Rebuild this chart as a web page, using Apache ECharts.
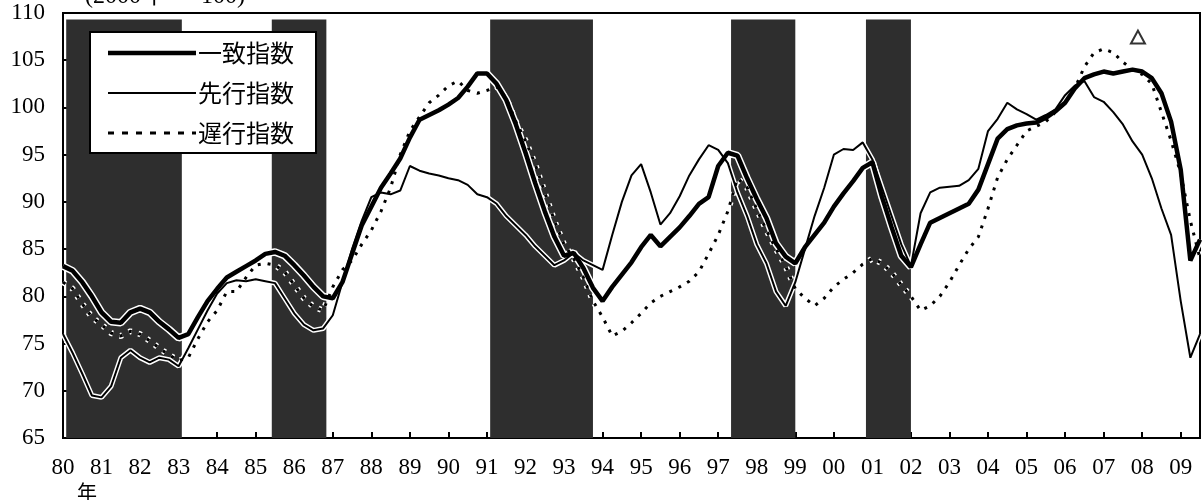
<!DOCTYPE html>
<html><head><meta charset="utf-8">
<script src="https://cdn.jsdelivr.net/npm/echarts/dist/echarts.min.js"></script>
<style>html,body{margin:0;padding:0;background:#fff}#c{width:1203px;height:500px}</style>
</head><body><div id="c"></div>
<script>
// quarterly readings, first value = 1980 Q1 start, step = one quarter
const startYear = 1980;
const coincident = [
  83.2, 82.7, 81.5, 80.0,   78.3, 77.3, 77.2, 78.3,   78.7, 78.3, 77.3, 76.5,
  75.6, 76.0, 77.8, 79.5,   80.8, 82.0, 82.6, 83.2,   83.8, 84.5, 84.7, 84.3,
  83.3, 82.2, 81.0, 80.0,   79.8, 81.5, 84.5, 87.5,   89.5, 91.5, 93.0, 94.6,
  96.8, 98.7, 99.2, 99.7,   100.3, 101.0, 102.2, 103.6, 103.6, 102.5, 100.8, 98.2,
  95.2, 92.0, 89.0, 86.3,   84.3, 84.6, 83.0, 80.9,   79.5, 81.0, 82.3, 83.6,
  85.2, 86.5, 85.3, 86.3,   87.3, 88.5, 89.8, 90.5,   93.8, 95.2, 94.9, 92.5,
  90.3, 88.3, 85.6, 84.2,   83.5, 85.2, 86.5, 87.8,   89.5, 90.9, 92.2, 93.6,
  94.2, 90.5, 87.3, 84.3,   83.1, 85.5, 87.8, 88.3,   88.8, 89.3, 89.8, 91.3,
  94.0, 96.7, 97.7, 98.1,   98.3, 98.4, 98.9, 99.6,   100.5, 102.0, 103.1, 103.5,
  103.8, 103.6, 103.8, 104.0, 103.8, 103.1, 101.5, 98.5, 93.4, 83.8, 86.0
];
const leading = [
  76.0, 74.0, 71.8, 69.5,   69.3, 70.5, 73.5, 74.3,   73.5, 73.0, 73.5, 73.3,
  72.6, 74.5, 76.5, 78.5,   80.3, 81.4, 81.7, 81.6,   81.8, 81.6, 81.4, 79.8,
  78.2, 77.0, 76.4, 76.6,   78.0, 81.5, 85.0, 88.0,   90.5, 91.0, 90.8, 91.2,
  93.8, 93.3, 93.0, 92.8,   92.5, 92.3, 91.8, 90.8,   90.5, 89.8, 88.5, 87.5,
  86.5, 85.3, 84.3, 83.3,   83.8, 84.6, 83.8, 83.3,   82.8, 86.5, 90.0, 92.8,
  94.0, 91.0, 87.6, 88.8,   90.6, 92.8, 94.5, 96.0,   95.5, 94.1, 91.0, 88.5,
  85.5, 83.5, 80.5, 79.0,   81.5, 85.0, 88.5, 91.5,   95.0, 95.6, 95.5, 96.3,
  94.5, 91.5, 88.5, 85.5,   83.2, 88.8, 91.0, 91.5,   91.6, 91.7, 92.3, 93.5,
  97.5, 98.8, 100.5, 99.8,  99.3, 98.7, 99.2, 99.8,   101.3, 102.3, 102.8, 101.1,
  100.6, 99.5, 98.2, 96.4,  95.0, 92.5, 89.3, 86.5,   79.5, 73.5, 76.0
];
const lagging = [
  81.5, 80.8, 79.2, 77.8,   77.0, 76.1, 75.8, 76.3,   76.0, 75.3, 74.5, 73.8,
  73.2, 73.5, 75.5, 77.3,   78.5, 80.5, 80.5, 82.0,   83.3, 83.5, 83.3, 82.6,
  81.2, 79.8, 78.9, 78.5,   81.0, 82.8, 83.8, 85.5,   87.0, 89.0, 91.5, 95.0,
  97.5, 99.0, 100.5, 101.3, 102.3, 102.8, 101.8, 101.5, 101.8, 102.2, 101.0, 98.5,
  96.5, 94.0, 91.0, 88.0,   85.5, 84.0, 82.0, 79.5,   77.8, 75.8, 76.3, 77.2,
  78.2, 79.3, 80.0, 80.5,   81.0, 81.6, 82.6, 84.5,   86.5, 89.0, 92.5, 91.5,
  89.2, 87.0, 85.0, 83.2,   80.8, 79.8, 79.0, 79.8,   81.0, 81.8, 82.5, 83.4,
  84.0, 83.5, 82.5, 81.2,   80.0, 78.5, 79.0, 80.0,   81.5, 83.3, 85.0, 86.3,
  89.3, 92.6, 94.5, 96.0,   97.5, 98.0, 98.5, 99.5,   100.5, 102.0, 104.3, 105.8,
  106.2, 105.8, 104.8, 104.0, 103.5, 102.5, 99.5, 96.5, 93.0, 88.0, 84.0
];
// recession periods (start, end) in years
const recessions = [[1980.083, 1983.083], [1985.417, 1986.833], [1991.083, 1993.75], [1997.333, 1999.0], [2000.833, 2002.0]];
const peakMark = [[2007.89, 107.45]];
const seriesNames = ['一致指数', '先行指数', '遅行指数'];
const titleText = '(2000年 ＝ 100)';
const yearUnit = '年';

const quarters = coincident.map((_, i) => startYear + i * 0.25);
const pairs = vals => vals.map((v, i) => [quarters[i], v]);

const defs = [
  {name: seriesNames[0], data: coincident, width: 4.5, type: 'solid', legendDash: null},
  {name: seriesNames[1], data: leading, width: 2, type: 'solid', legendDash: null},
  {name: seriesNames[2], data: lagging, width: 3, type: [3, 7], legendDash: [6, 8]}
];

const series = [{
  type: 'line', name: '_shade', data: [], z: 1, silent: true,
  markArea: {silent: true, itemStyle: {color: '#2e2e2e'},
    data: recessions.map(r => [{xAxis: r[0], yAxis: 65}, {xAxis: r[1], yAxis: 109.3}])}
}];
defs.forEach(d => series.push({
  type: 'line', name: '_h' + d.name, data: pairs(d.data), symbol: 'none', silent: true, z: 2,
  lineStyle: {color: '#fff', width: d.width + 3, type: d.type}
}));
defs.forEach(d => series.push({
  type: 'line', name: d.name, data: pairs(d.data), symbol: 'none', z: 3,
  lineStyle: {color: '#000', width: d.width, type: d.type}, itemStyle: {color: '#000'}
}));
series.push({type: 'scatter', name: '_peak', data: peakMark, symbol: 'triangle', symbolSize: [14, 13], z: 4,
  itemStyle: {color: '#fff', borderColor: '#000', borderWidth: 2}});

// legend drawn as graphic box (line samples + text)
const legendGraphic = [{type: 'rect', shape: {x: 90, y: 32, width: 226, height: 121}, z: 50,
  style: {fill: '#fff', stroke: '#000', lineWidth: 2}}];
defs.forEach((d, i) => {
  const y = 53 + i * 40;
  legendGraphic.push({type: 'line', z: 51, shape: {x1: 108, y1: y, x2: 196, y2: y},
    style: {stroke: '#000', lineWidth: d.width, lineDash: d.legendDash}});
  legendGraphic.push({type: 'text', z: 51, x: 198, y: y,
    style: {text: d.name, fontSize: 24, fontFamily: 'Noto Sans CJK JP', fill: '#000', textVerticalAlign: 'middle', verticalAlign: 'middle'}});
});

const chart = echarts.init(document.getElementById('c'));
chart.setOption({
  animation: false,
  backgroundColor: '#fff',
  grid: {left: 63, right: 3, top: 13, bottom: 62, show: true, borderColor: '#000', borderWidth: 2, backgroundColor: 'transparent'},
  xAxis: {type: 'value', min: 1980, max: 2009.5, interval: 1,
    axisLine: {show: true, lineStyle: {color: '#000', width: 2}},
    axisTick: {show: true, inside: true, length: 6, lineStyle: {color: '#000', width: 2}},
    splitLine: {show: false},
    axisLabel: {color: '#000', fontFamily: 'Liberation Serif', fontSize: 23, margin: 18,
      formatter: v => Number.isInteger(v) ? String(v % 100).padStart(2, '0') : ''}},
  yAxis: {type: 'value', min: 65, max: 110, interval: 5,
    axisLine: {show: true, lineStyle: {color: '#000', width: 2}},
    axisTick: {show: true, inside: true, length: 5, lineStyle: {color: '#000', width: 2}},
    splitLine: {show: false},
    axisLabel: {color: '#000', fontFamily: 'Liberation Serif', fontSize: 23, margin: 18}},
  graphic: [
    {type: 'text', x: 85, y: -15, style: {text: titleText, fontSize: 24, fontFamily: 'Liberation Serif, Noto Sans CJK JP', fill: '#000'}},
    {type: 'text', x: 77, y: 482, style: {text: yearUnit, fontSize: 20, fontFamily: 'Noto Sans CJK JP', fill: '#000'}}
  ].concat(legendGraphic),
  series: series
});
</script>
</body></html>
